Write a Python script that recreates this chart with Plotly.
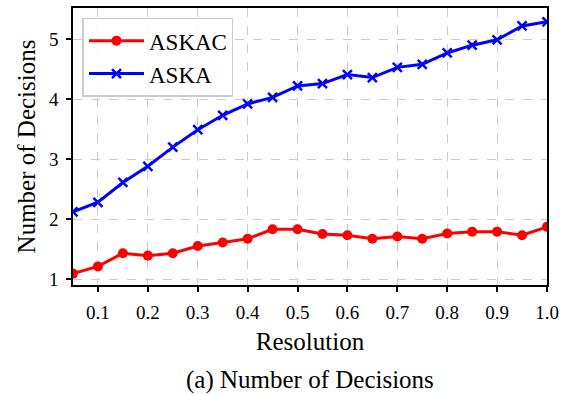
import plotly.graph_objects as go

resolution = [0.05, 0.10, 0.15, 0.20, 0.25, 0.30, 0.35, 0.40, 0.45, 0.50,
              0.55, 0.60, 0.65, 0.70, 0.75, 0.80, 0.85, 0.90, 0.95, 1.00]
askac = [1.09, 1.21, 1.43, 1.39, 1.43, 1.55, 1.61, 1.67, 1.83, 1.83,
         1.75, 1.73, 1.67, 1.71, 1.67, 1.76, 1.79, 1.79, 1.73, 1.87]
aska = [2.12, 2.28, 2.61, 2.88, 3.20, 3.49, 3.73, 3.92, 4.03, 4.22,
        4.26, 4.41, 4.36, 4.53, 4.58, 4.77, 4.90, 4.99, 5.22, 5.29]
x_ticks = [0.1, 0.2, 0.3, 0.4, 0.5, 0.6, 0.7, 0.8, 0.9, 1.0]
x_tick_text = ["0.1", "0.2", "0.3", "0.4", "0.5", "0.6", "0.7", "0.8", "0.9", "1.0"]
y_ticks = [1, 2, 3, 4, 5]

FONT = "Liberation Serif"

fig = go.Figure()
fig.add_trace(go.Scatter(
    x=resolution, y=askac, name="ASKAC", mode="lines+markers",
    line=dict(color="#ff0000", width=3),
    marker=dict(symbol="circle", size=10, color="#ff0000"),
))
fig.add_trace(go.Scatter(
    x=resolution, y=aska, name="ASKA", mode="lines+markers",
    line=dict(color="#0000ff", width=3),
    marker=dict(symbol="x-thin", size=9, color="#0000ff",
                line=dict(color="#0000ff", width=2.5)),
))

axis_common = dict(
    showline=True, linecolor="black", linewidth=1.5, mirror=True,
    ticks="outside", ticklen=5, tickwidth=1.5, tickcolor="black",
    showgrid=True, gridcolor="#cccccc", griddash="dash", gridwidth=1.2,
    zeroline=False, automargin=False,
    tickfont=dict(family=FONT, size=19, color="black"),
)

fig.update_xaxes(
    range=[0.05, 1.0], tickvals=x_ticks, ticktext=x_tick_text,
    ticklabelstandoff=4,
    title=dict(text="Resolution", font=dict(family=FONT, size=25, color="black"),
               standoff=11),
    **axis_common,
)
fig.update_yaxes(
    range=[0.9, 5.52], tickvals=y_ticks,
    ticklabelstandoff=4,
    title=dict(text="Number of Decisions", font=dict(family=FONT, size=25, color="black"),
               standoff=6),
    **axis_common,
)

fig.add_annotation(
    text="(a) Number of Decisions", xref="paper", yref="paper",
    x=0.5, y=-0.343, xanchor="center", yanchor="middle", showarrow=False,
    font=dict(family=FONT, size=25, color="black"),
)

fig.update_layout(
    width=561, height=395,
    margin=dict(l=73, r=14, t=8, b=110),
    paper_bgcolor="white", plot_bgcolor="white",
    showlegend=True,
    legend=dict(
        x=0.02, y=0.965, xanchor="left", yanchor="top",
        bgcolor="rgba(255,255,255,0.85)", bordercolor="#cccccc", borderwidth=1.5,
        font=dict(family=FONT, size=23, color="black"),
        itemwidth=55, tracegroupgap=2,
    ),
)

fig.write_html("out.html")
